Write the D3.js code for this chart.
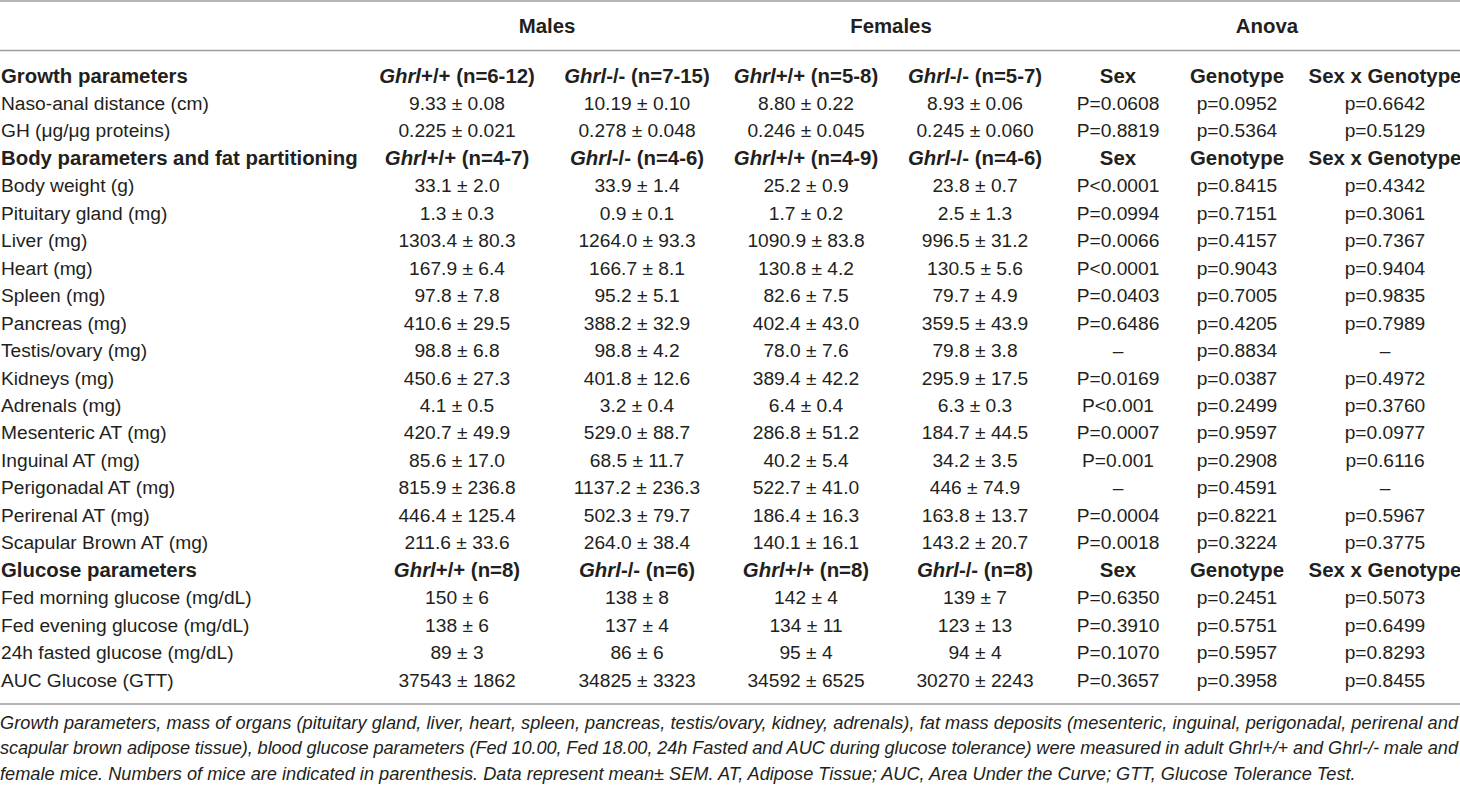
<!DOCTYPE html>
<html><head><meta charset="utf-8">
<script src="https://cdn.jsdelivr.net/npm/d3@7"></script>
<style>html,body{margin:0;padding:0;background:#fff;} svg{display:block;}</style>
</head><body><svg id="c" width="1460" height="787"></svg>
<script>
// ---------------- data ----------------
const groupHeaders = ["Males", "Females", "Anova"];
const genotypes = ["+/+", "-/-", "+/+", "-/-"];
const anovaHeaders = ["Sex", "Genotype", "Sex x Genotype"];
const sectionTitles = ["Growth parameters", "Body parameters and fat partitioning", "Glucose parameters"];
const sectionN = [["6-12", "7-15", "5-8", "5-7"], ["4-7", "4-6", "4-9", "4-6"], ["8", "6", "8", "8"]];
const sectionSizes = [2, 14, 4];

const rowLabels = [
  "Naso-anal distance (cm)", "GH (\u03bcg/\u03bcg proteins)",
  "Body weight (g)", "Pituitary gland (mg)", "Liver (mg)", "Heart (mg)", "Spleen (mg)", "Pancreas (mg)",
  "Testis/ovary (mg)", "Kidneys (mg)", "Adrenals (mg)", "Mesenteric AT (mg)", "Inguinal AT (mg)",
  "Perigonadal AT (mg)", "Perirenal AT (mg)", "Scapular Brown AT (mg)",
  "Fed morning glucose (mg/dL)", "Fed evening glucose (mg/dL)", "24h fasted glucose (mg/dL)", "AUC Glucose (GTT)"
];
const malesWT = ["9.33 ± 0.08", "0.225 ± 0.021", "33.1 ± 2.0", "1.3 ± 0.3", "1303.4 ± 80.3", "167.9 ± 6.4", "97.8 ± 7.8", "410.6 ± 29.5", "98.8 ± 6.8", "450.6 ± 27.3", "4.1 ± 0.5", "420.7 ± 49.9", "85.6 ± 17.0", "815.9 ± 236.8", "446.4 ± 125.4", "211.6 ± 33.6", "150 ± 6", "138 ± 6", "89 ± 3", "37543 ± 1862"];
const malesKO = ["10.19 ± 0.10", "0.278 ± 0.048", "33.9 ± 1.4", "0.9 ± 0.1", "1264.0 ± 93.3", "166.7 ± 8.1", "95.2 ± 5.1", "388.2 ± 32.9", "98.8 ± 4.2", "401.8 ± 12.6", "3.2 ± 0.4", "529.0 ± 88.7", "68.5 ± 11.7", "1137.2 ± 236.3", "502.3 ± 79.7", "264.0 ± 38.4", "138 ± 8", "137 ± 4", "86 ± 6", "34825 ± 3323"];
const femalesWT = ["8.80 ± 0.22", "0.246 ± 0.045", "25.2 ± 0.9", "1.7 ± 0.2", "1090.9 ± 83.8", "130.8 ± 4.2", "82.6 ± 7.5", "402.4 ± 43.0", "78.0 ± 7.6", "389.4 ± 42.2", "6.4 ± 0.4", "286.8 ± 51.2", "40.2 ± 5.4", "522.7 ± 41.0", "186.4 ± 16.3", "140.1 ± 16.1", "142 ± 4", "134 ± 11", "95 ± 4", "34592 ± 6525"];
const femalesKO = ["8.93 ± 0.06", "0.245 ± 0.060", "23.8 ± 0.7", "2.5 ± 1.3", "996.5 ± 31.2", "130.5 ± 5.6", "79.7 ± 4.9", "359.5 ± 43.9", "79.8 ± 3.8", "295.9 ± 17.5", "6.3 ± 0.3", "184.7 ± 44.5", "34.2 ± 3.5", "446 ± 74.9", "163.8 ± 13.7", "143.2 ± 20.7", "139 ± 7", "123 ± 13", "94 ± 4", "30270 ± 2243"];
const pSex = ["P=0.0608", "P=0.8819", "P<0.0001", "P=0.0994", "P=0.0066", "P<0.0001", "P=0.0403", "P=0.6486", "\u2013", "P=0.0169", "P<0.001", "P=0.0007", "P=0.001", "\u2013", "P=0.0004", "P=0.0018", "P=0.6350", "P=0.3910", "P=0.1070", "P=0.3657"];
const pGenotype = ["p=0.0952", "p=0.5364", "p=0.8415", "p=0.7151", "p=0.4157", "p=0.9043", "p=0.7005", "p=0.4205", "p=0.8834", "p=0.0387", "p=0.2499", "p=0.9597", "p=0.2908", "p=0.4591", "p=0.8221", "p=0.3224", "p=0.2451", "p=0.5751", "p=0.5957", "p=0.3958"];
const pSexGenotype = ["p=0.6642", "p=0.5129", "p=0.4342", "p=0.3061", "p=0.7367", "p=0.9404", "p=0.9835", "p=0.7989", "\u2013", "p=0.4972", "p=0.3760", "p=0.0977", "p=0.6116", "\u2013", "p=0.5967", "p=0.3775", "p=0.5073", "p=0.6499", "p=0.8293", "p=0.8455"];

const captionLines = [
  "Growth parameters, mass of organs (pituitary gland, liver, heart, spleen, pancreas, testis/ovary, kidney, adrenals), fat mass deposits (mesenteric, inguinal, perigonadal, perirenal and",
  "scapular brown adipose tissue), blood glucose parameters (Fed 10.00, Fed 18.00, 24h Fasted and AUC during glucose tolerance) were measured in adult Ghrl+/+ and Ghrl-/- male and",
  "female mice. Numbers of mice are indicated in parenthesis. Data represent mean\u00b1 SEM. AT, Adipose Tissue; AUC, Area Under the Curve; GTT, Glucose Tolerance Test."
];

// ---------------- layout ----------------
const W = 1460;
const FONT = "'Liberation Sans', Arial, Helvetica, sans-serif";
const INK = "#231f20";
const svg = d3.select("#c");

function fitSize(str, weight, style, target) {
  const t = svg.append("text").attr("font-family", FONT).attr("font-size", 100)
    .attr("font-weight", weight).attr("font-style", style).text(str);
  const w = t.node().getComputedTextLength();
  t.remove();
  return 100 * target / w;
}
const bodySize = fitSize("Naso-anal distance (cm)", 400, "normal", 208);
const boldSize = fitSize("Growth parameters", 700, "normal", 187);
const capSize = fitSize(captionLines[2], 400, "italic", 1357);

const colKeys = ["mWT", "mKO", "fWT", "fKO", "sex", "gen", "sxg"];
const x = d3.scaleOrdinal().domain(colKeys).range([457, 637, 806, 975, 1118, 1237, 1385]);
const xGroup = d3.scaleOrdinal().domain(groupHeaders).range([547, 891, 1267]);
const nRows = rowLabels.length + sectionTitles.length;
const y = d3.scaleLinear().domain([0, nRows - 1]).range([82.5, 686.5]);

// rules
const rules = [1, 50.5, 704];
svg.selectAll("line.rule").data(rules).join("line").attr("class", "rule")
  .attr("x1", 0).attr("x2", W).attr("y1", d => d).attr("y2", d => d)
  .attr("stroke", "#9d9d9d").attr("stroke-width", 1.6);

// group headers
svg.selectAll("text.group").data(groupHeaders).join("text").attr("class", "group")
  .attr("x", d => xGroup(d)).attr("y", 33).attr("text-anchor", "middle")
  .attr("font-family", FONT).attr("font-size", boldSize).attr("font-weight", 700).attr("fill", INK)
  .text(d => d);

// build rows
const rows = [];
let dataIdx = 0, rowIdx = 0;
sectionTitles.forEach((title, s) => {
  rows.push({ type: "head", idx: rowIdx++, title, s });
  for (let k = 0; k < sectionSizes[s]; k++) {
    const i = dataIdx++;
    rows.push({
      type: "data", idx: rowIdx++, label: rowLabels[i],
      cells: [malesWT[i], malesKO[i], femalesWT[i], femalesKO[i], pSex[i], pGenotype[i], pSexGenotype[i]]
    });
  }
});

const g = svg.append("g").attr("font-family", FONT).attr("fill", INK);
rows.forEach(r => {
  const yy = y(r.idx);
  if (r.type === "head") {
    g.append("text").attr("x", 1).attr("y", yy).attr("font-size", boldSize).attr("font-weight", 700).text(r.title);
    genotypes.forEach((gt, c) => {
      const t = g.append("text").attr("x", x(colKeys[c])).attr("y", yy).attr("text-anchor", "middle")
        .attr("font-size", boldSize).attr("font-weight", 700);
      t.append("tspan").attr("font-style", "italic").text("Ghrl");
      t.append("tspan").text(gt + " (n=" + sectionN[r.s][c] + ")");
    });
    anovaHeaders.forEach((h, c) => {
      g.append("text").attr("x", x(colKeys[4 + c])).attr("y", yy).attr("text-anchor", "middle")
        .attr("font-size", boldSize).attr("font-weight", 700).text(h);
    });
  } else {
    g.append("text").attr("x", 1).attr("y", yy).attr("font-size", bodySize).text(r.label);
    r.cells.forEach((v, c) => {
      g.append("text").attr("x", x(colKeys[c])).attr("y", yy).attr("text-anchor", "middle")
        .attr("font-size", bodySize).text(v);
    });
  }
});

// caption
const capY = [728.5, 754, 779.5];
captionLines.forEach((line, i) => {
  const t = svg.append("text").attr("x", 0).attr("y", capY[i])
    .attr("font-family", FONT).attr("font-size", capSize).attr("font-style", "italic").attr("fill", INK)
    .text(line);
  if (i < 2) t.attr("textLength", 1458).attr("lengthAdjust", "spacing");
});
</script></body></html>
